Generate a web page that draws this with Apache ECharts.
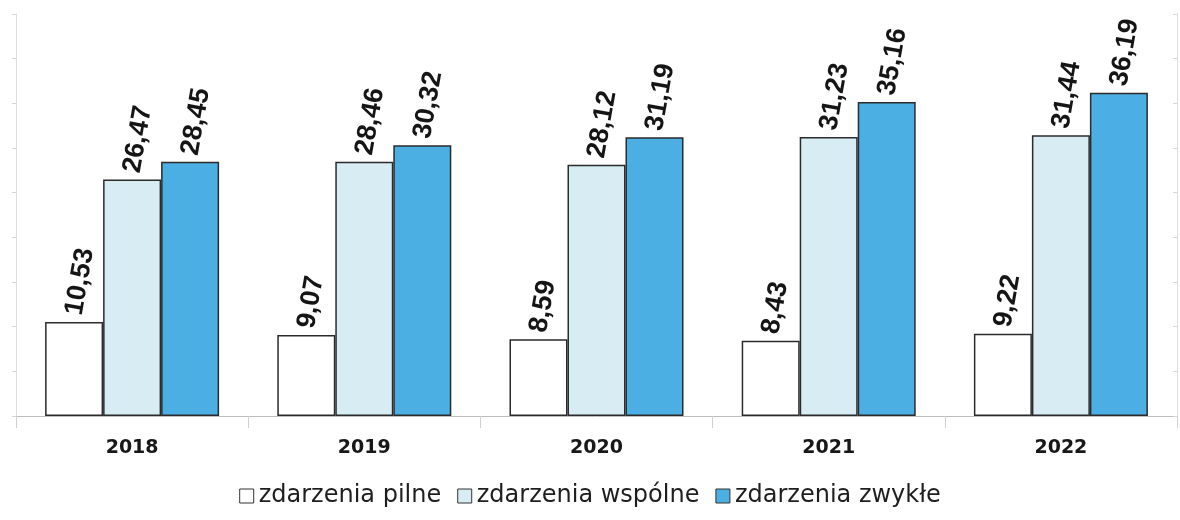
<!DOCTYPE html>
<html>
<head>
<meta charset="utf-8">
<script src="https://cdn.jsdelivr.net/npm/echarts@6/dist/echarts.min.js"></script>
<style>
  html, body { margin: 0; padding: 0; background: #fff; }
  #chart { width: 1180px; height: 520px; }
</style>
</head>
<body>
<div id="chart"></div>
<script>
// dane z wykresu
var years = ['2018', '2019', '2020', '2021', '2022']
var seriesNames = ['zdarzenia pilne', 'zdarzenia wspólne', 'zdarzenia zwykłe']
var pilne = [10.53, 9.07, 8.59, 8.43, 9.22]
var wspolne = [26.47, 28.46, 28.12, 31.23, 31.44]
var zwykle = [28.45, 30.32, 31.19, 35.16, 36.19]

var colors = ['#ffffff', '#d8ecf4', '#4cafe4']

var chart = echarts.init(document.getElementById('chart'))

function makeSeries(name, data, color) {
  return {
    name: name,
    type: 'bar',
    data: data,
    barWidth: 58,
    barGap: '0%',
    itemStyle: {
      color: color,
      borderColor: '#2b2b2b',
      borderWidth: 1.5
    },
    label: {
      show: true,
      position: 'top',
      rotate: 80,
      align: 'left',
      verticalAlign: 'middle',
      distance: 7,
      color: '#151515',
      fontFamily: 'Liberation Sans',
      fontWeight: 'bold',
      fontSize: 27,
      formatter: function (p) {
        return p.value.toFixed(2).replace('.', ',')
      }
    }
  }
}

var option = {
  backgroundColor: '#ffffff',
  animation: false,
  legend: {
    bottom: 7,
    left: 'center',
    itemWidth: 14,
    itemHeight: 14,
    itemGap: 16,
    icon: 'rect',
    itemStyle: { borderColor: '#333', borderWidth: 1 },
    textStyle: {
      fontFamily: 'DejaVu Sans',
      fontSize: 24,
      color: '#1e1e1e'
    },
    data: seriesNames
  },
  grid: {
    left: 16,
    right: 3,
    top: 14,
    bottom: 104
  },
  xAxis: {
    type: 'category',
    data: years,
    axisLine: { lineStyle: { color: '#bdbdbd', width: 1 } },
    axisTick: { show: true, length: 12, lineStyle: { color: '#d0d0d0' } },
    axisLabel: {
      margin: 23,
      fontFamily: 'DejaVu Sans',
      fontWeight: 'bold',
      fontSize: 19,
      color: '#181818'
    }
  },
  yAxis: [
    {
      type: 'value',
      min: 0,
      max: 45,
      interval: 5,
      axisLine: { show: true, lineStyle: { color: '#dddddd' } },
      axisTick: { show: true, length: 4, lineStyle: { color: '#d6d6d6' } },
      axisLabel: { show: false },
      splitLine: { show: false }
    },
    {
      type: 'value',
      position: 'right',
      min: 0,
      max: 45,
      interval: 5,
      axisLine: { show: true, lineStyle: { color: '#dddddd' } },
      axisTick: { show: true, inside: true, length: 4, lineStyle: { color: '#d6d6d6' } },
      axisLabel: { show: false },
      splitLine: { show: false }
    }
  ],
  series: [
    makeSeries(seriesNames[0], pilne, colors[0]),
    makeSeries(seriesNames[1], wspolne, colors[1]),
    makeSeries(seriesNames[2], zwykle, colors[2])
  ]
}

chart.setOption(option)
</script>
</body>
</html>
